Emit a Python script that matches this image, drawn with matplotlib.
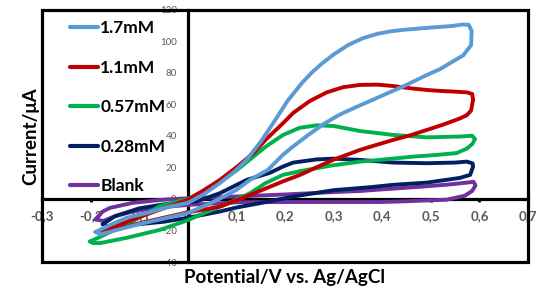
import matplotlib
matplotlib.use("Agg")
import matplotlib.pyplot as plt
from matplotlib.patches import Rectangle
from matplotlib.ticker import FixedLocator, FuncFormatter

# ---------------- data ----------------
labels = ["1.7mM", "1.1mM", "0.57mM", "0.28mM", "Blank"]
colors = ["#5B9BD5", "#C00000", "#00B050", "#002060", "#7030A0"]

x_17 = [-0.19, -0.167, -0.126, -0.085, -0.037, 0.0, 0.033, 0.066, 0.095, 0.121, 0.152, 0.18, 0.205,
        0.235, 0.255, 0.275, 0.30, 0.33, 0.36, 0.39, 0.42, 0.45, 0.49, 0.52, 0.545, 0.565, 0.578, 0.584, 0.583,
        0.567, 0.545, 0.52, 0.485, 0.45, 0.415, 0.38, 0.345, 0.31, 0.28, 0.25, 0.22, 0.196, 0.165,
        0.128, 0.1, 0.065, 0.031, 0.0, -0.05, -0.1, -0.15, -0.18, -0.19]
y_17 = [-21, -17.5, -12, -9, -4.9, -2.6, 3, 10, 17, 24.7, 37, 50, 62,
        73.5, 80, 85.5, 91.5, 97.5, 101.8, 104.6, 106.3, 107.3, 108.3, 109, 109.6, 110.5, 110.3, 106.5, 97.5,
        91, 87, 82.4, 77.5, 72.2, 67.5, 62.7, 58, 53, 47.5, 41, 34, 28, 18.4,
        12, 5.7, 0, -4.9, -9, -12.5, -16, -20, -22.5, -21]

x_11 = [-0.178, -0.15, -0.1, -0.05, 0.0, 0.033, 0.066, 0.1, 0.135, 0.16, 0.196, 0.217, 0.251, 0.286,
        0.32, 0.354, 0.39, 0.423, 0.46, 0.492, 0.52, 0.546, 0.574, 0.585, 0.587, 0.583, 0.574, 0.56,
        0.525, 0.492, 0.46, 0.423, 0.375, 0.354, 0.299, 0.265, 0.231, 0.195, 0.162, 0.128, 0.1, 0.066,
        0.033, 0.0, -0.05, -0.1, -0.15, -0.175, -0.178]
y_11 = [-21.5, -17.5, -11.5, -6, -0.6, 5.5, 12, 20, 29, 37.4, 48, 54.5, 62, 67.5,
        70.8, 72.2, 72.4, 71.5, 70, 69, 68.4, 68, 67.5, 66.5, 63, 56, 53, 51,
        47, 43.7, 40.5, 37.4, 33, 31, 24.7, 20, 15.2, 11, 6.8, 2.5, -1, -4.9,
        -6.8, -8.5, -12, -15.5, -19.5, -22, -21.5]

x_057 = [-0.201, -0.18, -0.15, -0.1, -0.057, 0.0, 0.033, 0.066, 0.1, 0.128, 0.16, 0.196, 0.23,
         0.265, 0.3, 0.354, 0.423, 0.492, 0.56, 0.585, 0.591, 0.586, 0.575, 0.553, 0.51, 0.464,
         0.395, 0.354, 0.293, 0.23, 0.196, 0.16, 0.128, 0.1, 0.066, 0.03, 0.0, -0.057, -0.126,
         -0.18, -0.195, -0.201]
y_057 = [-27, -24, -19.5, -12, -4.5, 0, 5, 11, 18, 25, 33, 40.5, 45,
         46.6, 46.2, 43, 40.5, 39, 39.5, 40, 38, 35, 32, 29, 27.8, 26.8,
         24.7, 23.6, 21, 17.5, 15.2, 10, 3.6, -0.5, -5, -9.5, -13.5, -19.6, -24.7,
         -28, -28, -27]

x_028 = [-0.175, -0.15, -0.1, -0.05, 0.0, 0.018, 0.066, 0.121, 0.169, 0.196, 0.217, 0.265, 0.3,
         0.354, 0.423, 0.492, 0.55, 0.574, 0.586, 0.587, 0.581, 0.56, 0.492, 0.423, 0.375, 0.3,
         0.217, 0.149, 0.1, 0.066, 0.0, -0.05, -0.1, -0.15, -0.17, -0.175]
y_028 = [-16, -11, -6, -3.5, -2, -1.7, 3.6, 12, 16.5, 20.5, 23, 25, 25.5,
         24.7, 23, 22.6, 23, 23.6, 22.5, 20.5, 15.2, 13.3, 10.3, 8.9, 7.4, 5.5,
         1.5, -2.7, -5.5, -8, -12, -14.5, -16, -17.5, -17, -16]

x_blank = [-0.19, -0.175, -0.16, -0.113, -0.05, 0.0, 0.1, 0.2, 0.3, 0.354, 0.4, 0.492, 0.533, 0.574,
           0.588, 0.592, 0.585, 0.57, 0.533, 0.45, 0.395, 0.3, 0.2, 0.1, 0.0, -0.06, -0.113, -0.15,
           -0.174, -0.19]
y_blank = [-13, -8, -5.7, -2.5, -0.5, 0.4, 1.5, 2.8, 4.3, 5, 6, 8, 9, 10.3,
           10.8, 8.5, 5, 2, -0.5, -1.5, -2, -2, -2, -2.2, -3.8, -5.5, -8, -11,
           -14, -13]

series_x = [x_17, x_11, x_057, x_028, x_blank]
series_y = [y_17, y_11, y_057, y_028, y_blank]

x_ticks = [-0.3, -0.2, -0.1, 0.0, 0.1, 0.2, 0.3, 0.4, 0.5, 0.6, 0.7]
y_ticks = [-40, -20, 0, 20, 40, 60, 80, 100, 120]
x_label = "Potential/V vs. Ag/AgCl"
y_label = "Current/μA"

# ---------------- figure ----------------
FONT = ["Lato", "DejaVu Sans"]
plt.rcParams["font.family"] = FONT
W, H = 544, 303
fig = plt.figure(figsize=(W / 100, H / 100), dpi=100)
ax = fig.add_axes([42 / W, 1 - 262 / H, (528 - 42) / W, (262 - 9.5) / H])
ax.set_xlim(-0.3, 0.7)
ax.set_ylim(-40, 120)

handles = [None] * len(labels)
for i in reversed(range(len(labels))):
    (ln,) = ax.plot(series_x[i], series_y[i], color=colors[i], lw=2.8,
                    solid_joinstyle="round", solid_capstyle="round", zorder=3 + (len(labels) - i) * 0.1)
    handles[i] = ln

# axes through zero
for s in ["top", "right"]:
    ax.spines[s].set_visible(False)
ax.spines["left"].set_position(("data", 0))
ax.spines["bottom"].set_position(("data", 0))
ax.spines["left"].set_linewidth(2.3)
ax.spines["bottom"].set_linewidth(2.3)
ax.add_patch(Rectangle((0, 0), 1, 1, transform=ax.transAxes, fill=False,
                       edgecolor="black", lw=2.3, clip_on=False, zorder=2.5))

fmt = FuncFormatter(lambda v, p: "0" if abs(v) < 1e-9 else f"{v:.1f}".replace(".", ","))
ax.xaxis.set_major_locator(FixedLocator(x_ticks))
ax.xaxis.set_major_formatter(fmt)
ax.yaxis.set_major_locator(FixedLocator(y_ticks))
ax.tick_params(axis="x", direction="out", length=2.5, width=2, color="black", pad=5.5,
               labelsize=9.5, labelcolor="#595959")
for t in ax.get_xticklabels():
    t.set_fontweight("bold")
ax.tick_params(axis="y", length=0, pad=8, labelsize=7, labelcolor="#595959")

ax.set_xlabel(x_label, fontsize=13.5, fontweight="bold")
ax.xaxis.set_label_coords(0.5, -0.028)
ax.xaxis.label.set_va("top")
ax.set_ylabel(y_label, fontsize=13.5, fontweight="bold")
ax.yaxis.set_label_coords(-0.005, 0.5)

leg = ax.legend(handles=handles, labels=labels, loc="upper left",
                bbox_to_anchor=(70 / W, 1 - 20 / H), bbox_transform=fig.transFigure,
                frameon=False, borderpad=0, borderaxespad=0, handlelength=1.6,
                handletextpad=0.15, labelspacing=1.36,
                prop={"family": FONT, "weight": "bold", "size": 12.5})
for l in leg.get_lines():
    l.set_linewidth(3)

fig.savefig("out.png", dpi=100)
